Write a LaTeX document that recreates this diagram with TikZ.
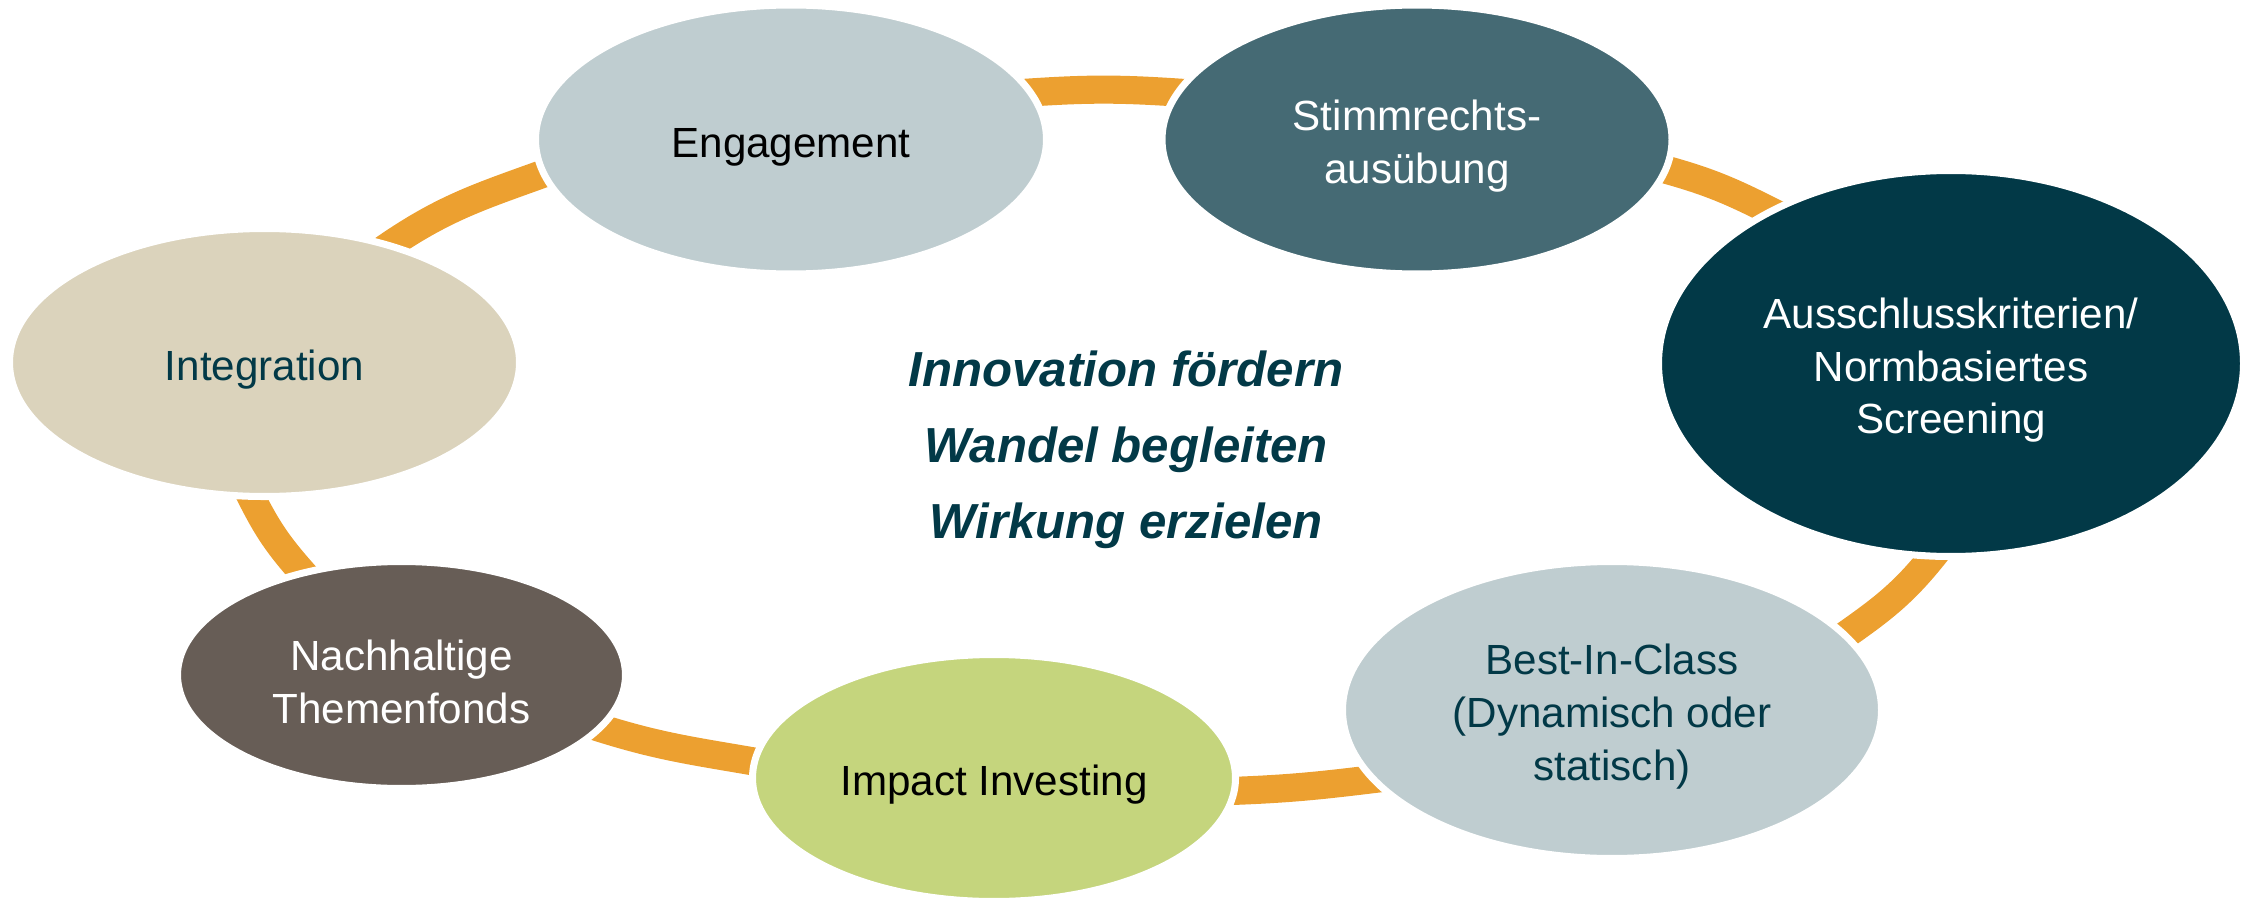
\documentclass[tikz,border=0pt]{standalone}
\usepackage{fontspec}
\setmainfont{Liberation Sans}
\usepackage{tikz}
\usetikzlibrary{shapes.geometric}
\usetikzlibrary{backgrounds}

\definecolor{ringorange}{HTML}{ECA030}
\definecolor{paleblue}{HTML}{BFCDD0}
\definecolor{slateteal}{HTML}{456A74}
\definecolor{deepteal}{HTML}{023947}
\definecolor{lightolive}{HTML}{C5D57D}
\definecolor{taupe}{HTML}{675D56}
\definecolor{sand}{HTML}{DBD3BC}

\newcommand{\nodestrut}{\rule{0pt}{12.5pt}}

\begin{document}
\begin{tikzpicture}
		[stage/.style={ellipse, draw=white, line width=2pt, inner sep=0pt, align=center, font=\fontsize{12}{15}\selectfont},
		ring/.style={draw=ringorange, line width=8pt, shorten <=-4pt, shorten >=-4pt}]
		\useasboundingbox (0,0) rectangle (22.52,9);
		\node[stage, fill=paleblue, minimum width=5.11cm, minimum height=2.69cm] (eng) at (7.91,7.605) {\nodestrut Engagement};
		\node[stage, fill=slateteal, text=white, minimum width=5.10cm, minimum height=2.69cm] (stimm) at (14.17,7.605) {\nodestrut Stimmrechts-\\aus\"ubung};
		\node[stage, fill=deepteal, text=white, minimum width=5.85cm, minimum height=3.86cm] (aus) at (19.51,5.365) {\nodestrut Ausschlusskriterien/\\Normbasiertes\\Screening};
		\node[stage, fill=paleblue, text=deepteal, minimum width=5.39cm, minimum height=2.97cm] (best) at (16.12,1.90) {\nodestrut Best-In-Class\\(Dynamisch oder\\statisch)};
		\node[stage, fill=lightolive, minimum width=4.83cm, minimum height=2.47cm] (impact) at (9.94,1.22) {\nodestrut Impact Investing};
		\node[stage, fill=taupe, text=white, minimum width=4.48cm, minimum height=2.27cm] (nach) at (4.015,2.25) {\nodestrut Nachhaltige\\Themenfonds};
		\node[stage, fill=sand, text=deepteal, minimum width=5.10cm, minimum height=2.68cm] (integ) at (2.645,5.375) {\nodestrut Integration};

		\node[font=\fontsize{14}{21.6}\selectfont\bfseries\itshape, text=deepteal, align=center] (motto) at (11.26,4.50) {Innovation f\"ordern\\Wandel begleiten\\Wirkung erzielen};

		\begin{scope}[on background layer]
			\draw[ring] (eng.11) to[out=4, in=176] (stimm.169);
			\draw[ring] (stimm.-7) to[out=-15, in=153] (aus.140);
			\draw[ring] (aus.-96) to[out=-128, in=35] (best.18);
			\draw[ring] (best.196) to[out=-173, in=2] (impact.-3);
			\draw[ring] (impact.176) to[out=170, in=-18] (nach.-15);
			\draw[ring] (nach.134) to[out=132, in=-64] (integ.-95);
			\draw[ring] (integ.43) to[out=35, in=-160] (eng.188);
		\end{scope}
	\end{tikzpicture}
\end{document}
